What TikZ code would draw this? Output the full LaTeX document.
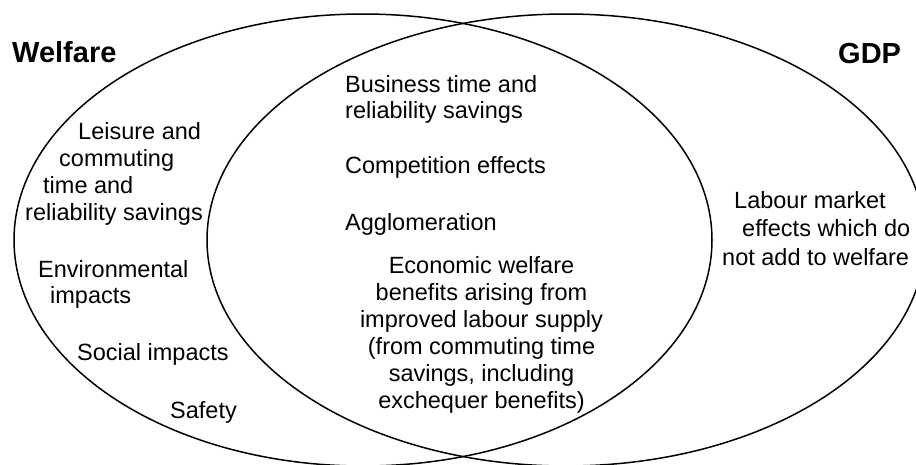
\documentclass[tikz,border=0pt]{standalone}
\usepackage{fontspec}
\setmainfont{Liberation Sans}

\begin{document}
\begin{tikzpicture}[x=1pt, y=-1pt,
  item/.style={font=\fontsize{23.5}{27}\selectfont, inner sep=0pt, align=left},
  settitle/.style={font=\fontsize{29}{32}\selectfont\bfseries, inner sep=0pt}]
  \useasboundingbox (0,0) rectangle (916,464);
  \clip (0,0) rectangle (916,464);

  % Sets
  \draw[line width=1.5pt] (363,240) ellipse [x radius=349pt, y radius=226pt];
  \draw[line width=1.5pt] (566,240) ellipse [x radius=359pt, y radius=226pt];

  % Titles
  \node[settitle, anchor=base west] (welfare) at (12,62) {Welfare};
  \node[settitle, anchor=base west] (gdp) at (838,63) {GDP};

  % Welfare only (multi-line nodes sit on their last line)
  \node[item, anchor=base west] (leisure) at (25,220)
    {\hspace*{53pt}Leisure and\\\hspace*{34pt}commuting\\\hspace*{18pt}time and\\reliability savings};
  \node[item, font=\fontsize{23.5}{26}\selectfont, anchor=base west] (env) at (38,303)
    {Environmental\\\hspace*{12pt}impacts};
  \node[item, anchor=base west] (social) at (77,360) {Social impacts};
  \node[item, anchor=base west] (safety) at (170,418) {Safety};

  % Overlap
  \node[item, font=\fontsize{23.5}{26}\selectfont, anchor=base west] (business) at (345,118)
    {Business time and\\reliability savings};
  \node[item, anchor=base west] (competition) at (345,173) {Competition effects};
  \node[item, anchor=base west] (agglom) at (345,230) {Agglomeration};
  \node[item, align=center, anchor=base] (labour) at (481.5,408)
    {Economic welfare\\benefits arising from\\improved labour supply\\(from commuting time\\savings, including\\exchequer benefits)};

  % GDP only
  \node[item, font=\fontsize{23.5}{28.5}\selectfont, anchor=base west] (market) at (722,265)
    {\hspace*{12pt}Labour market\\\hspace*{20pt}effects which do\\not add to welfare};
\end{tikzpicture}
\end{document}
